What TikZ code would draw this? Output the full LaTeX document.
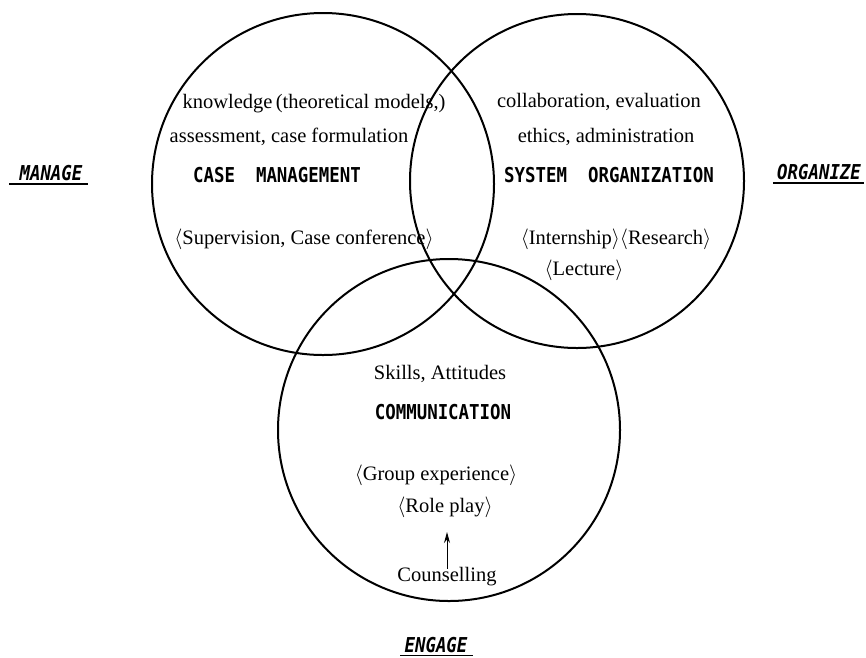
\documentclass[tikz,border=0pt]{standalone}
\usepackage{fontspec}
\setmainfont{Liberation Serif}
\newfontfamily\capsfont[FakeStretch=0.85]{DejaVu Sans Mono}
\usetikzlibrary{arrows.meta}
\tikzset{
  ring/.style={circle,draw,line width=2pt,inner sep=0pt,minimum size=#1},
  txt/.style={inner sep=0pt,font=\fontsize{20.5}{21}\selectfont,text height=1.5ex,text depth=.3ex},
  caps/.style={inner sep=0pt,font=\capsfont\bfseries\fontsize{20.5}{21}\selectfont},
  side/.style={inner sep=0pt,font=\capsfont\bfseries\itshape\fontsize{20.5}{21}\selectfont},
  uline/.style={line width=1.6pt},
  arr/.style={-{Stealth[length=11pt,width=6pt]},line width=1pt}
}
\begin{document}
\begin{tikzpicture}[x=1pt,y=-1pt]
\useasboundingbox (0,0) rectangle (866,657);
\node[ring=342] (CM) at (323,184) {};
\node[ring=334] (SO) at (577,181) {};
\node[ring=342] (CO) at (449,430) {};

\node[txt] (L1) at (314,106) {knowledge\,(theoretical models,)};
\node[txt] (L2) at (289,140) {assessment, case formulation};
\node[caps] (L3) at (277,175) {CASE\ \ MANAGEMENT};
\node[txt] (L4) at (304,242) {$\langle$Supervision, Case conference$\rangle$};

\node[txt] (R1) at (599,105) {collaboration, evaluation};
\node[txt] (R2) at (606,140) {ethics, administration};
\node[caps] (R3) at (609,175) {SYSTEM\ \ ORGANIZATION};
\node[txt] (R4) at (616,242) {$\langle$Internship$\rangle\langle$Research$\rangle$};
\node[txt] (R5) at (584,273) {$\langle$Lecture$\rangle$};

\node[txt] (B1) at (440,377) {Skills, Attitudes};
\node[caps] (B2) at (443,412) {COMMUNICATION};
\node[txt] (B3) at (436,478) {$\langle$Group experience$\rangle$};
\node[txt] (B4) at (445,510) {$\langle$Role play$\rangle$};
\node[txt,anchor=base] (B5) at (447,581) {Counselling};
\coordinate (B6) at (447,532);
\draw[arr,shorten <=5pt] (B5.north) -- (B6);

\node[side] (M) at (51,173) {MANAGE};
\node[side] (O) at (819,172) {ORGANIZE};
\node[side] (E) at (436,645) {ENGAGE};
\draw[uline] ([shift={(-10pt,-3pt)}]M.south west) -- ([shift={(5pt,-3pt)}]M.south east);
\draw[uline] ([shift={(-4pt,-3pt)}]O.south west) -- ([shift={(3pt,-3pt)}]O.south east);
\draw[uline] ([shift={(-4pt,-2.5pt)}]E.south west) -- ([shift={(5pt,-2.5pt)}]E.south east);
\end{tikzpicture}
\end{document}
